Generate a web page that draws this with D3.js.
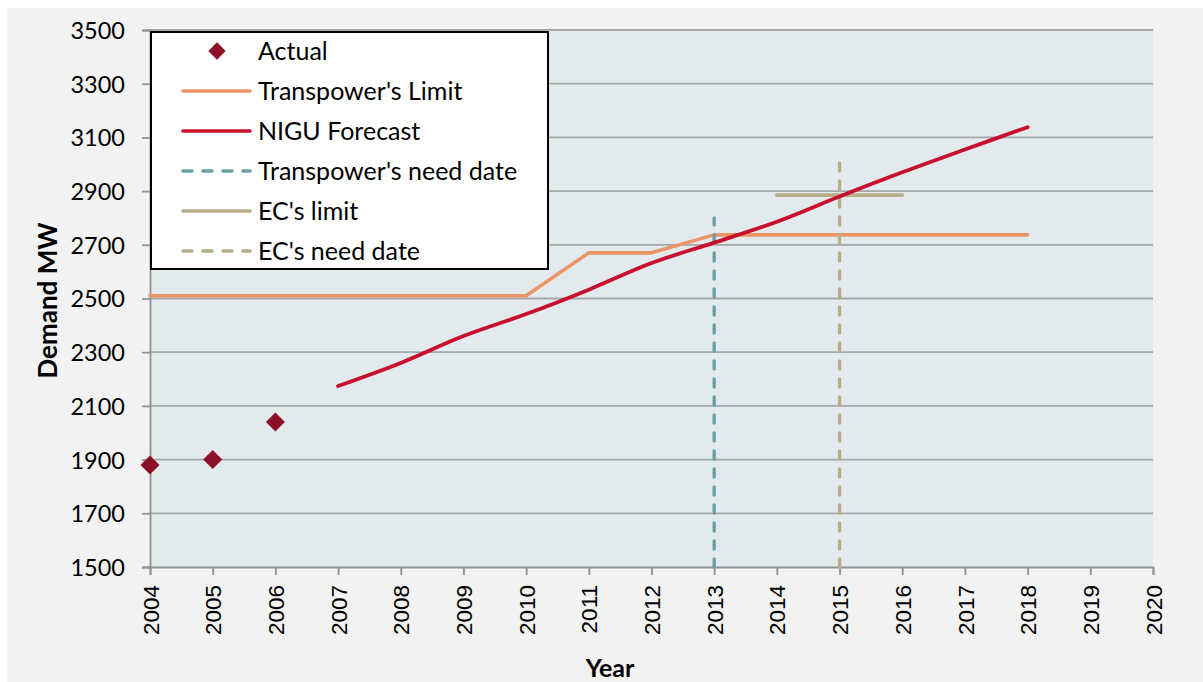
<!DOCTYPE html>
<html>
<head>
<meta charset="utf-8">
<script src="https://cdn.jsdelivr.net/npm/d3@7"></script>
<style>
  html, body { margin: 0; padding: 0; background: #ffffff; }
  svg { display: block; }
</style>
</head>
<body>
<svg id="chart" width="1203" height="682"></svg>
<script>
// ---- Data ----
const years = d3.range(2004, 2021);
const yTicks = [1500, 1700, 1900, 2100, 2300, 2500, 2700, 2900, 3100, 3300, 3500];

const actualYears = [2004, 2005, 2006];
const actualValues = [1880, 1900, 2040];

const limitYears = [2004, 2005, 2006, 2007, 2008, 2009, 2010, 2011, 2012, 2013, 2014, 2015, 2016, 2017, 2018];
const limitValues = [2510, 2510, 2510, 2510, 2510, 2510, 2510, 2670, 2670, 2737, 2737, 2737, 2737, 2737, 2737];

const forecastYears = [2007, 2008, 2009, 2010, 2011, 2012, 2013, 2014, 2015, 2016, 2017, 2018];
const forecastValues = [2174, 2260, 2360, 2442, 2533, 2632, 2708, 2786, 2880, 2970, 3055, 3138];

const tpNeedYears = [2013, 2013];
const tpNeedValues = [1500, 2800];

const ecLimitYears = [2014, 2016];
const ecLimitValues = [2885, 2885];

const ecNeedYears = [2015, 2015];
const ecNeedValues = [1500, 3005];

const legendLabels = ["Actual", "Transpower's Limit", "NIGU Forecast", "Transpower's need date", "EC's limit", "EC's need date"];

// ---- Styles ----
const C = {
  actual: "#8c1027",
  limit: "#ec9566",
  forecast: "#c8102e",
  tpNeed: "#6aa1a6",
  ecLimit: "#b8ad89",
  ecNeed: "#b8ad89"
};

const svg = d3.select("#chart");
const W = 1203, H = 682;

// outer background
svg.append("rect").attr("x", 7).attr("y", 8).attr("width", W - 7).attr("height", H - 8).attr("fill", "#f2f2f2");

const x = d3.scaleLinear().domain([2004, 2020]).range([150, 1153]);
const y = d3.scaleLinear().domain([1500, 3500]).range([567, 30]);

// plot background
svg.append("rect")
  .attr("x", x(2004)).attr("y", y(3500))
  .attr("width", x(2020) - x(2004)).attr("height", y(1500) - y(3500))
  .attr("fill", "#e3eaee");

// gridlines
svg.append("g").selectAll("line").data(yTicks.filter(d => d > 1500)).join("line")
  .attr("x1", x(2004)).attr("x2", x(2020))
  .attr("y1", d => y(d)).attr("y2", d => y(d))
  .attr("stroke", "#a5a7a9").attr("stroke-width", 1.8);

// y axis
const yAxis = svg.append("g").attr("transform", `translate(${x(2004)},0)`)
  .call(d3.axisLeft(y).tickValues(yTicks).tickSize(8).tickPadding(17).tickFormat(d3.format("d")));
yAxis.select(".domain").attr("stroke", "#8f9194").attr("stroke-width", 1.8);
yAxis.selectAll(".tick line").attr("stroke", "#8f9194").attr("stroke-width", 1.8);
yAxis.selectAll(".tick text")
  .attr("fill", "#000").attr("font-family", "Lato, 'Open Sans', sans-serif").attr("font-size", 23.5)
  .attr("dy", "0.36em");

// x axis
const xAxis = svg.append("g").attr("transform", `translate(0,${y(1500)})`)
  .call(d3.axisBottom(x).tickValues(years).tickSize(8).tickFormat(d3.format("d")));
xAxis.select(".domain").attr("stroke", "#8f9194").attr("stroke-width", 1.8);
xAxis.selectAll(".tick line").attr("stroke", "#8f9194").attr("stroke-width", 1.8);
xAxis.selectAll(".tick text")
  .attr("fill", "#000").attr("font-family", "'Liberation Sans', Arial, sans-serif").attr("font-size", 22.5)
  .attr("text-anchor", "end")
  .attr("transform", "rotate(-90)")
  .attr("x", -18).attr("y", 0).attr("dy", "0.36em");

// axis titles
svg.append("text")
  .attr("transform", `translate(57,${(y(1500) + y(3500)) / 2 + 2}) rotate(-90)`)
  .attr("text-anchor", "middle")
  .attr("font-family", "Lato, 'Open Sans', sans-serif").attr("font-weight", "bold").attr("font-size", 26)
  .attr("fill", "#000")
  .text("Demand MW");

svg.append("text")
  .attr("x", 610).attr("y", 677)
  .attr("text-anchor", "middle")
  .attr("font-family", "Lato, 'Open Sans', sans-serif").attr("font-weight", "bold").attr("font-size", 25)
  .attr("fill", "#000")
  .text("Year");

const line = d3.line().x(d => x(d[0])).y(d => y(d[1]));
const smooth = d3.line().x(d => x(d[0])).y(d => y(d[1])).curve(d3.curveCatmullRom.alpha(0.5));
const zip = (a, b) => a.map((v, i) => [v, b[i]]);

// Transpower's limit
svg.append("path").attr("d", line(zip(limitYears, limitValues)))
  .attr("fill", "none").attr("stroke", C.limit).attr("stroke-width", 3.6)
  .attr("stroke-linejoin", "round").attr("stroke-linecap", "round");

// Transpower need date
svg.append("path").attr("d", line(zip(tpNeedYears, tpNeedValues)))
  .attr("fill", "none").attr("stroke", C.tpNeed).attr("stroke-width", 3.4)
  .attr("stroke-dasharray", "8,10").attr("stroke-linecap", "round");

// EC's need date
svg.append("path").attr("d", line(zip(ecNeedYears, ecNeedValues)))
  .attr("fill", "none").attr("stroke", C.ecNeed).attr("stroke-width", 3.4)
  .attr("stroke-dasharray", "8,10").attr("stroke-linecap", "round");

// EC's limit
svg.append("path").attr("d", line(zip(ecLimitYears, ecLimitValues)))
  .attr("fill", "none").attr("stroke", C.ecLimit).attr("stroke-width", 3.6)
  .attr("stroke-linecap", "round");

// NIGU forecast
svg.append("path").attr("d", smooth(zip(forecastYears, forecastValues)))
  .attr("fill", "none").attr("stroke", C.forecast).attr("stroke-width", 3.8)
  .attr("stroke-linejoin", "round").attr("stroke-linecap", "round");

// Actual markers
const diamond = d3.symbol().type(d3.symbolSquare).size(180);
svg.append("g").selectAll("path").data(zip(actualYears, actualValues)).join("path")
  .attr("d", diamond)
  .attr("transform", d => `translate(${x(d[0])},${y(d[1])}) rotate(45)`)
  .attr("fill", C.actual);

// ---- Legend ----
const lg = svg.append("g");
lg.append("rect").attr("x", 151).attr("y", 32).attr("width", 397).attr("height", 237)
  .attr("fill", "#ffffff").attr("stroke", "#000").attr("stroke-width", 2);

const legendStyles = [
  { type: "marker", color: C.actual },
  { type: "line", color: C.limit, dash: null },
  { type: "line", color: C.forecast, dash: null },
  { type: "line", color: C.tpNeed, dash: "9,11" },
  { type: "line", color: C.ecLimit, dash: null },
  { type: "line", color: C.ecNeed, dash: "9,11" }
];
const legendSymbol = d3.symbol().type(d3.symbolSquare).size(150);
legendLabels.forEach((lab, i) => {
  const cy = 51 + i * 40;
  const st = legendStyles[i];
  if (st.type === "marker") {
    lg.append("path").attr("d", legendSymbol).attr("transform", `translate(217,${cy}) rotate(45)`).attr("fill", st.color);
  } else {
    lg.append("line").attr("x1", 183).attr("x2", 250).attr("y1", cy).attr("y2", cy)
      .attr("stroke", st.color).attr("stroke-width", 3.6).attr("stroke-linecap", "round")
      .attr("stroke-dasharray", st.dash);
  }
  lg.append("text").attr("x", 258).attr("y", cy).attr("dy", "0.36em")
    .attr("font-family", "Lato, 'Open Sans', sans-serif").attr("font-size", 25).attr("fill", "#000")
    .text(lab);
});
</script>
</body>
</html>
